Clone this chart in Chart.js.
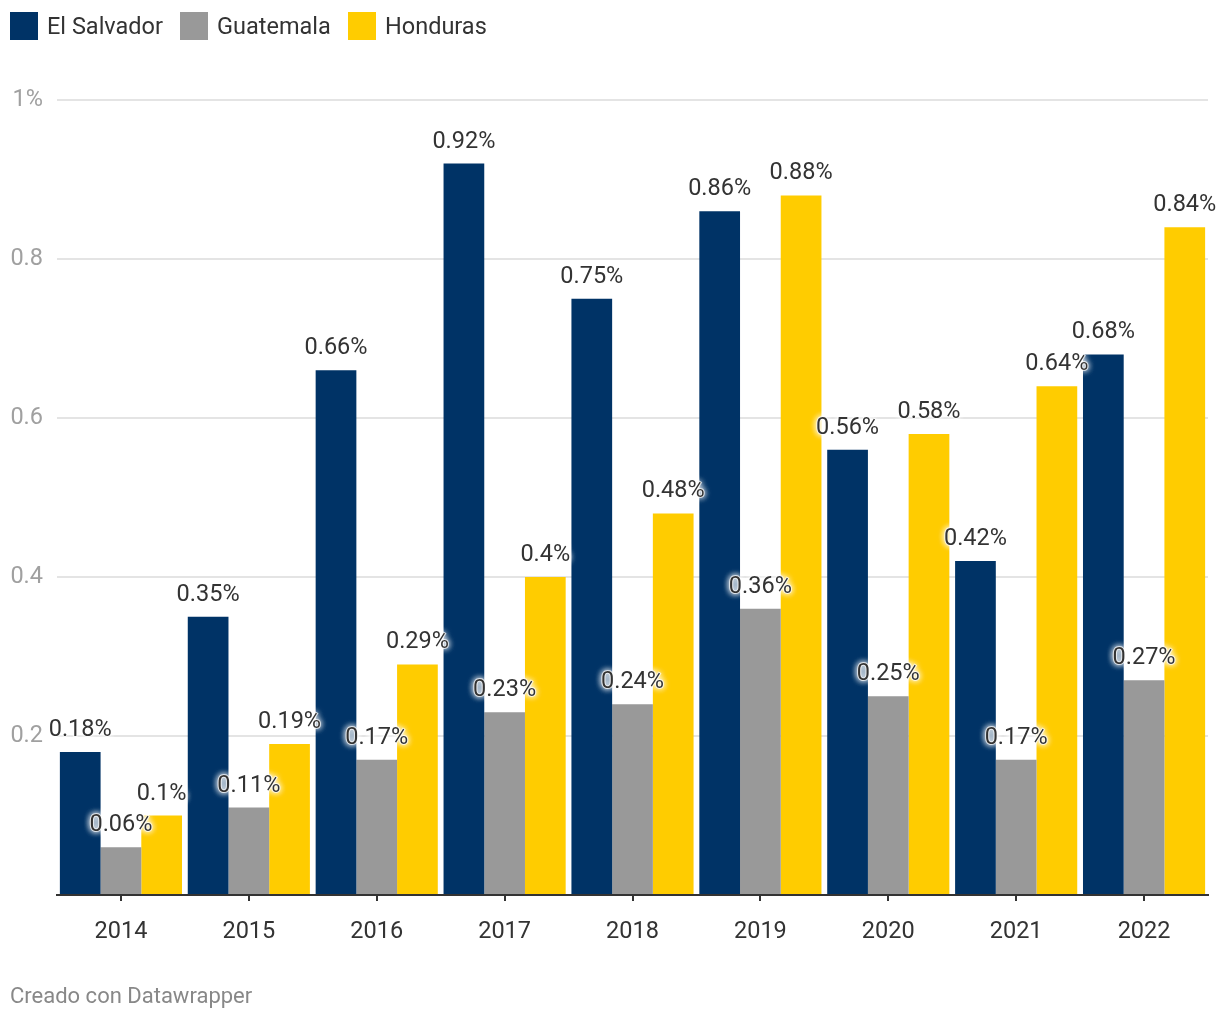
<!DOCTYPE html>
<html>
<head>
<meta charset="utf-8">
<script src="https://cdn.jsdelivr.net/npm/chart.js@4"></script>
<style>
  html, body { margin: 0; padding: 0; background: #fff; }
  body { width: 1220px; height: 1020px; position: relative; overflow: hidden; font-family: Roboto, sans-serif; }
  #wrap { position: absolute; left: 0; top: 0; width: 1220px; height: 1020px; }
  .leg { position: absolute; top: 12px; height: 28px; display: flex; align-items: center; font-size: 23.5px; color: #333; white-space: nowrap; }
  .leg span.sw { display: inline-block; width: 28px; height: 28px; margin-right: 9px; }
  #footer { position: absolute; left: 10px; top: 983px; font-size: 22px; color: #888; }
</style>
</head>
<body>
<div id="wrap"><canvas id="c" width="1220" height="1020"></canvas></div>
<div class="leg" style="left:10px"><span class="sw" style="background:#003366"></span>El Salvador</div>
<div class="leg" style="left:180px"><span class="sw" style="background:#999999"></span>Guatemala</div>
<div class="leg" style="left:348px"><span class="sw" style="background:#ffcc00"></span>Honduras</div>
<div id="footer">Creado con Datawrapper</div>
<script>
const years = ['2014','2015','2016','2017','2018','2019','2020','2021','2022'];
const elSalvador = [0.18, 0.35, 0.66, 0.92, 0.75, 0.86, 0.56, 0.42, 0.68];
const guatemala  = [0.06, 0.11, 0.17, 0.23, 0.24, 0.36, 0.25, 0.17, 0.27];
const honduras   = [0.1, 0.19, 0.29, 0.4, 0.48, 0.88, 0.58, 0.64, 0.84];
const yTicks = [0, 0.2, 0.4, 0.6, 0.8, 1];

const labelPlugin = {
  id: 'barLabels',
  afterDatasetsDraw(chart) {
    const ctx = chart.ctx;
    ctx.save();
    ctx.font = '23.5px Roboto, sans-serif';
    ctx.textAlign = 'center';
    ctx.textBaseline = 'alphabetic';
    chart.data.datasets.forEach((ds, di) => {
      const meta = chart.getDatasetMeta(di);
      meta.data.forEach((bar, i) => {
        const txt = String(ds.data[i]) + '%';
        const x = bar.x, y = bar.y - 16;
        ctx.shadowColor = '#ffffff';
        ctx.shadowBlur = 6;
        ctx.fillStyle = '#ffffff';
        ctx.strokeStyle = 'rgba(255,255,255,0.7)';
        ctx.lineWidth = 2;
        ctx.strokeText(txt, x, y);
        ctx.fillText(txt, x, y);
        ctx.fillText(txt, x, y);
        ctx.shadowBlur = 0;
        ctx.shadowColor = 'rgba(0,0,0,0)';
        ctx.fillStyle = '#333';
        ctx.fillText(txt, x, y);
      });
    });
    ctx.restore();
  }
};

new Chart(document.getElementById('c'), {
  type: 'bar',
  data: {
    labels: years,
    datasets: [
      { label: 'El Salvador', data: elSalvador, backgroundColor: '#003366' },
      { label: 'Guatemala', data: guatemala, backgroundColor: '#999999' },
      { label: 'Honduras', data: honduras, backgroundColor: '#ffcc00' }
    ]
  },
  options: {
    responsive: false,
    animation: false,
    devicePixelRatio: 1,
    layout: { padding: { left: 10, right: 12, top: 100, bottom: 0 } },
    datasets: { bar: { categoryPercentage: 0.955, barPercentage: 1.0, borderWidth: 0 } },
    plugins: { legend: { display: false }, tooltip: { enabled: false } },
    scales: {
      x: {
        offset: true,
        grid: { display: true, offset: false, drawOnChartArea: false, drawTicks: true, tickLength: 6, color: '#333', lineWidth: 2 },
        border: { display: true, color: '#333', width: 2 },
        ticks: { color: '#333', font: { family: 'Roboto', size: 23.5 }, padding: 17, maxRotation: 0 },
        afterFit(s) { s.height = 125; }
      },
      y: {
        min: 0, max: 1,
        afterBuildTicks(s) { s.ticks = yTicks.map(v => ({ value: v })); },
        grid: {
          drawTicks: false,
          color: (c) => (c.tick && c.tick.value === 0) ? 'rgba(0,0,0,0)' : '#e4e4e4',
          lineWidth: 2
        },
        border: { display: false },
        ticks: {
          color: '#a0a0a0', font: { family: 'Roboto', size: 23.5 }, padding: 14,
          callback: (v) => v === 0 ? '' : (v === 1 ? '1%' : v.toFixed(1))
        },
        afterFit(s) { s.width = 47; }
      }
    }
  },
  plugins: [labelPlugin]
});
</script>
</body>
</html>
